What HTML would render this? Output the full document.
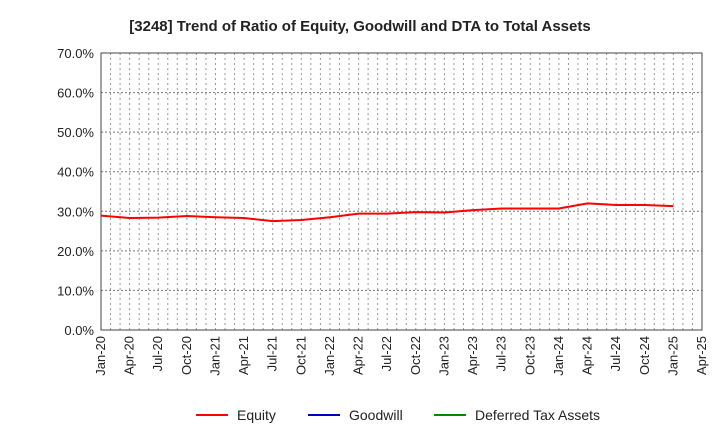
<!DOCTYPE html>
<html><head><meta charset="utf-8"><style>
body{margin:0;background:#fff;font-family:"Liberation Sans",Arial,sans-serif}
</style></head><body>
<svg id="chart" width="720" height="440" xmlns="http://www.w3.org/2000/svg">
<text x="360" y="31" text-anchor="middle" font-size="15" font-weight="bold" fill="#222">[3248]  Trend of Ratio of Equity, Goodwill and DTA to Total Assets</text>
<g id="grid"></g><g id="axes"></g><g id="series"></g>
<g font-size="14" fill="#222">
<g><line x1="196" y1="415" x2="228" y2="415" stroke="#f00" stroke-width="2"/><text x="237" y="420">Equity</text></g>
<g><line x1="308" y1="415" x2="340" y2="415" stroke="#00c" stroke-width="2"/><text x="349" y="420">Goodwill</text></g>
<g><line x1="434" y1="415" x2="466" y2="415" stroke="#080" stroke-width="2"/><text x="475" y="420">Deferred Tax Assets</text></g>
</g>
</svg>
<script>
const xLabels=["Jan-20","Apr-20","Jul-20","Oct-20","Jan-21","Apr-21","Jul-21","Oct-21","Jan-22","Apr-22","Jul-22","Oct-22","Jan-23","Apr-23","Jul-23","Oct-23","Jan-24","Apr-24","Jul-24","Oct-24","Jan-25","Apr-25"];
const yTicks=[0,10,20,30,40,50,60,70];
const equity=[28.9,28.3,28.4,28.8,28.5,28.3,27.5,27.8,28.5,29.4,29.4,29.8,29.7,30.3,30.7,30.7,30.7,32.0,31.6,31.6,31.3];
const L=101,R=702,T=53,B=330,NS="http://www.w3.org/2000/svg";
const nQ=xLabels.length-1;
const xq=i=>L+(R-L)*i/nQ;
const y=v=>B-(B-T)*v/70;
function mk(t,a,p){const e=document.createElementNS(NS,t);for(const k in a)e.setAttribute(k,a[k]);p.appendChild(e);return e;}
const grid=document.getElementById('grid'),axes=document.getElementById('axes'),ser=document.getElementById('series');
for(let m=1;m<nQ*3;m++){const x=L+(R-L)*m/(nQ*3);const l=mk('line',{x1:x,x2:x,y1:T,y2:B,stroke:'#999','stroke-dasharray':'2,3'},grid);

}
yTicks.forEach(v=>{if(v>0){const l=mk('line',{x1:L,x2:R,y1:y(v),y2:y(v),stroke:'#777','stroke-dasharray':'2,2'},grid);

}
const t=mk('text',{x:L-7,y:y(v)+5,'text-anchor':'end','font-size':'13',fill:'#222'},axes);t.textContent=v.toFixed(1)+'%';

});
const fr=mk('rect',{x:L,y:T,width:R-L,height:B-T,fill:'none',stroke:'#444','stroke-width':1},axes);


xLabels.forEach((s,i)=>{const x=xq(i),yy=B+6;const t=mk('text',{x:x+4,y:yy,'text-anchor':'end','font-size':'13',fill:'#222',transform:`rotate(-90 ${x+4} ${yy})`},axes);t.textContent=s;

});
const p=mk('polyline',{points:equity.map((v,i)=>xq(i)+','+y(v)).join(' '),fill:'none',stroke:'#f00','stroke-width':2},ser);


</script>
</body></html>
